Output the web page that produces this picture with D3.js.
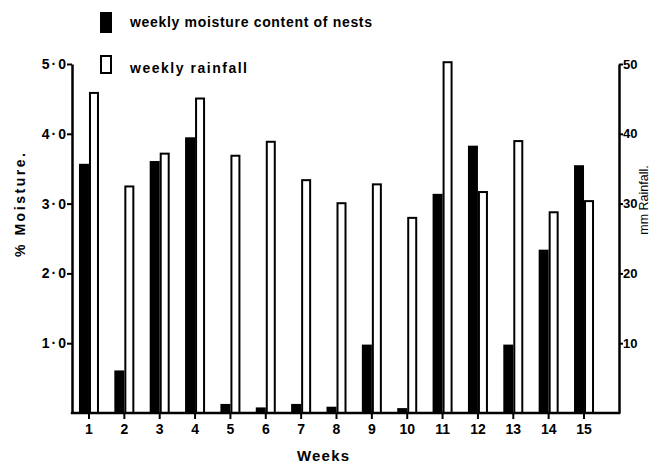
<!DOCTYPE html>
<html>
<head>
<meta charset="utf-8">
<script src="https://cdn.jsdelivr.net/npm/d3@7/dist/d3.min.js"></script>
<style>
  html, body { margin: 0; padding: 0; background: #fff; }
  svg { display: block; }
  text { font-family: "Liberation Sans", Arial, sans-serif; fill: #000; }
</style>
</head>
<body>
<svg id="chart" width="667" height="465"></svg>
<script>
// Weekly nest moisture (%) and weekly rainfall (mm) over 15 weeks
const weeks = [1, 2, 3, 4, 5, 6, 7, 8, 9, 10, 11, 12, 13, 14, 15];
const moisture = [3.57, 0.61, 3.61, 3.95, 0.13, 0.08, 0.13, 0.09, 0.98, 0.07, 3.14, 3.83, 0.98, 2.34, 3.55];
const rainfall = [46.0, 32.6, 37.3, 45.2, 37.0, 39.0, 33.5, 30.2, 32.9, 28.1, 50.4, 31.8, 39.1, 28.9, 30.5];
const moistureTicks = [1, 2, 3, 4, 5];
const rainfallTicks = [10, 20, 30, 40, 50];
const seriesNames = ["moisture", "rainfall"];
const legendLabels = ["weekly moisture content of nests", "weekly rainfall"];

const svg = d3.select("#chart");

const plotLeft = 72, plotRight = 619, plotTop = 64, plotBottom = 413;

const x = d3.scaleBand().domain(weeks).range([71.3, 601.7]).padding(0);
const inner = d3.scaleBand().domain(seriesNames)
  .range([x.bandwidth() / 2 - 10, x.bandwidth() / 2 + 10]).padding(0);
const yM = d3.scaleLinear().domain([0, 5]).range([plotBottom, plotTop]);
const yR = d3.scaleLinear().domain([0, 50]).range([plotBottom, plotTop]);

const fmt = d => d3.format(".1f")(d).replace(".", "\u00b7");

// bars
const g = svg.append("g");
const rows = weeks.map((w, i) => ({ w, m: moisture[i], r: rainfall[i] }));

g.selectAll("rect.m").data(rows).join("rect")
  .attr("class", "m")
  .attr("x", d => x(d.w) + inner("moisture"))
  .attr("width", inner.bandwidth())
  .attr("y", d => yM(d.m))
  .attr("height", d => yM(0) - yM(d.m))
  .attr("fill", "#000");

g.selectAll("rect.r").data(rows).join("rect")
  .attr("class", "r")
  .attr("x", d => x(d.w) + inner("rainfall") + 1)
  .attr("width", inner.bandwidth() - 2)
  .attr("y", d => yR(d.r) + 1)
  .attr("height", d => yR(0) - yR(d.r) - 1)
  .attr("fill", "#fff")
  .attr("stroke", "#000")
  .attr("stroke-width", 2);

// left axis
const axL = svg.append("g").attr("transform", `translate(${plotLeft},0)`)
  .call(d3.axisLeft(yM).tickValues(moistureTicks).tickFormat(fmt)
    .tickSize(5).tickSizeOuter(0).tickPadding(-1));
axL.select(".domain").attr("stroke-width", 2.5);
axL.selectAll(".tick line").attr("stroke-width", 2);
axL.selectAll("text").attr("font-size", 14).attr("font-weight", "bold")
  .attr("letter-spacing", 2).attr("fill", "#000");

// right axis
const axR = svg.append("g").attr("transform", `translate(${plotRight},0)`)
  .call(d3.axisRight(yR).tickValues(rainfallTicks).tickFormat(d3.format("d"))
    .tickSize(4).tickSizeOuter(0).tickPadding(0));
axR.select(".domain").attr("stroke-width", 2.5);
axR.selectAll(".tick line").attr("stroke-width", 2);
axR.selectAll("text").attr("font-size", 13).attr("font-weight", "bold").attr("fill", "#000");

// bottom axis
const axB = svg.append("g").attr("transform", `translate(0,${plotBottom})`)
  .call(d3.axisBottom(x).tickSize(6).tickPadding(5));
axB.select(".domain").remove();
axB.selectAll(".tick line").attr("stroke-width", 2);
axB.selectAll("text").attr("font-size", 14).attr("font-weight", "bold").attr("fill", "#000");
svg.append("line")
  .attr("x1", plotLeft - 1.2).attr("x2", plotRight + 1.2)
  .attr("y1", plotBottom).attr("y2", plotBottom)
  .attr("stroke", "#000").attr("stroke-width", 2.5);

// axis titles
svg.append("text")
  .attr("transform", "translate(25,205) rotate(-90)")
  .attr("text-anchor", "middle")
  .attr("font-size", 14).attr("font-weight", "bold")
  .attr("textLength", 104).attr("lengthAdjust", "spacing")
  .text("% Moisture.");
svg.append("text")
  .attr("transform", "translate(648,200) rotate(-90)")
  .attr("text-anchor", "middle")
  .attr("font-size", 12.5)
  .text("mm Rainfall.");
svg.append("text")
  .attr("x", 323).attr("y", 461)
  .attr("text-anchor", "middle")
  .attr("font-size", 15).attr("font-weight", "bold")
  .attr("textLength", 52).attr("lengthAdjust", "spacing")
  .text("Weeks");

// legend
const legend = svg.append("g");
legend.append("rect").attr("x", 100).attr("y", 12).attr("width", 12).attr("height", 21).attr("fill", "#000");
legend.append("rect").attr("x", 101).attr("y", 56).attr("width", 10).attr("height", 17)
  .attr("fill", "#fff").attr("stroke", "#000").attr("stroke-width", 2);
legend.selectAll("text.lg").data(legendLabels).join("text")
  .attr("class", "lg")
  .attr("x", 130).attr("y", (d, i) => i === 0 ? 27 : 73)
  .attr("font-size", 14).attr("font-weight", "bold")
  .attr("textLength", (d, i) => i === 0 ? 242 : 117).attr("lengthAdjust", "spacing")
  .text(d => d);
</script>
</body>
</html>
